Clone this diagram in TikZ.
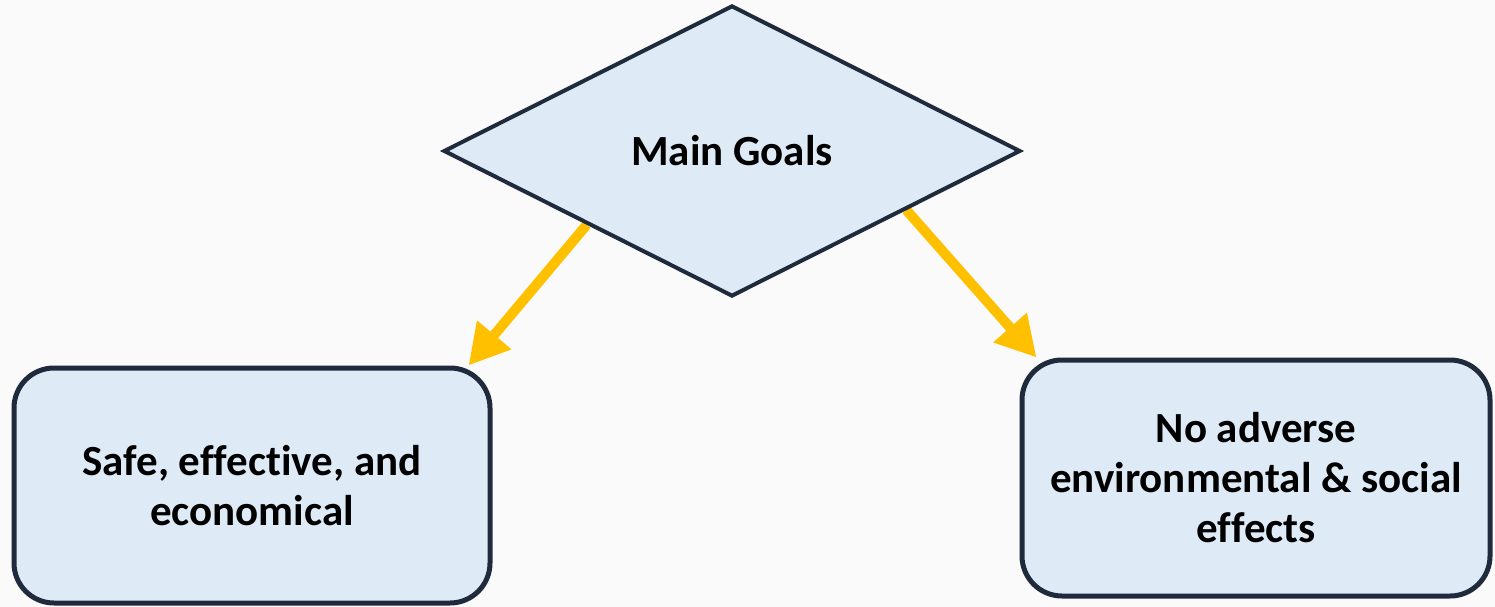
\documentclass[tikz,border=0pt]{standalone}
\usepackage{fontspec}
\setmainfont{Carlito}[Ligatures=NoCommon]
\usetikzlibrary{shapes.geometric,arrows.meta,calc,backgrounds}
\definecolor{bgc}{HTML}{FAFAFA}
\definecolor{fillc}{HTML}{DEEBF7}
\definecolor{strokec}{HTML}{1F2B3C}
\definecolor{arrowc}{HTML}{FFC000}
\tikzset{
  goalshape/.style={diamond, draw=strokec, fill=fillc, line width=4pt, inner sep=0pt,
    minimum width=577pt, minimum height=291pt, font=\fontsize{43pt}{50pt}\selectfont\bfseries},
  goalbox/.style={draw=strokec, fill=fillc, line width=5pt, rounded corners=40pt,
    align=center, inner sep=0pt, font=\fontsize{43pt}{50pt}\selectfont\bfseries},
  yarrow/.style={draw=arrowc, line width=10pt, -{Triangle[length=40pt,width=42pt]}}
}
\begin{document}
\begin{tikzpicture}[x=1pt,y=-1pt]
\useasboundingbox (0,0) rectangle (1495,607);
\node[goalshape] (goal) at (732,151) {Main Goals};
\node[goalbox, minimum width=476pt, minimum height=235pt] (left) at (252,485.5)
  {Safe, effective, and\\economical};
\node[goalbox, minimum width=468pt, minimum height=236pt] (right) at (1256,478)
  {No adverse\\environmental \& social\\effects};
\coordinate (ls) at ($(goal.west)!0.5!(goal.south)$);
\coordinate (rs) at ($(goal.east)!0.4!(goal.south)$);
\coordinate (lt) at ($(left.north east)+(-24,0)$);
\coordinate (rt) at ($(right.north west)+(17,0)$);
\begin{scope}[on background layer]
\fill[bgc] (0,0) rectangle (1495,607);
\draw[yarrow] (ls) -- (lt);
\draw[yarrow] (rs) -- (rt);
\end{scope}
\end{tikzpicture}
\end{document}
